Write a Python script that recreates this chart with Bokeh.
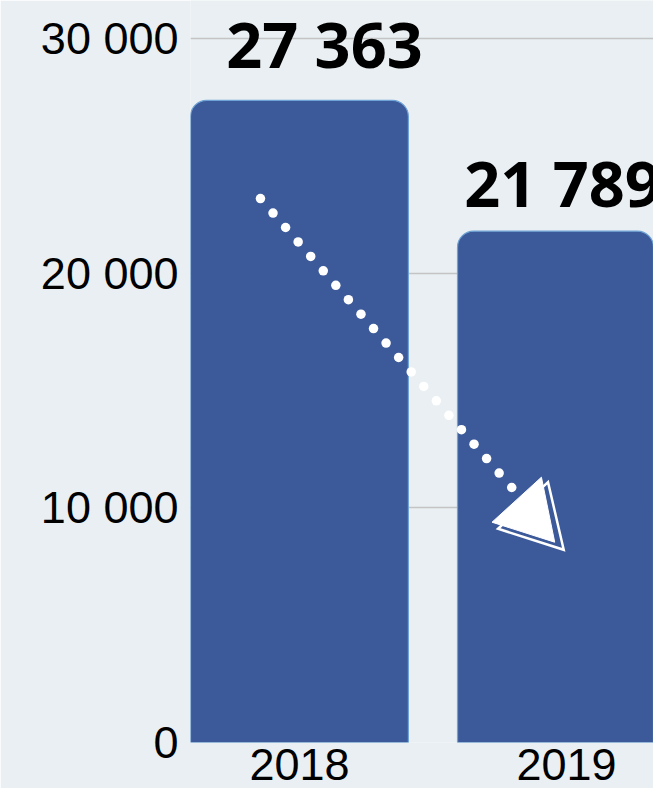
import numpy as np
from bokeh.plotting import figure
from bokeh.models import ColumnDataSource, FixedTicker, Range1d
from bokeh.core.properties import value
from bokeh.embed import file_html
from bokeh.resources import INLINE

# ---- data ----
years = ["2018", "2019"]
counts = [27363, 21789]
count_labels = ["27 363", "21 789"]
y_ticks = [0, 10000, 20000, 30000]
y_tick_labels = ["0", "10 000", "20 000", "30 000"]

BG = "#e9eff2"
BAR = "#3c5a99"

W, H = 653, 788
LEFT, BOTTOM = 190, 46
x_start, x_end = -0.408, 1.326
y_start, y_end = 0, 31619

p = figure(width=W, height=H, output_backend="svg", toolbar_location=None,
           x_range=Range1d(x_start, x_end), y_range=Range1d(y_start, y_end),
           min_border_left=LEFT, min_border_right=0, min_border_top=0,
           min_border_bottom=BOTTOM)
p.background_fill_color = BG
p.border_fill_color = BG
p.outline_line_color = None

xs = list(range(len(years)))
src = ColumnDataSource(dict(x=xs, top=counts, label=count_labels,
                            dx=[25, -4], dy=[-57, -49]))

p.vbar(x="x", top="top", bottom=0, width=0.816, source=src,
       fill_color=BAR, line_color="#6fa3d6", line_width=1.2,
       border_radius=(16, 16, 0, 0))

p.text(x="x", y="top", text="label", source=src, x_offset="dx", y_offset="dy",
       text_font=value("Open Sans"), text_font_style="bold",
       text_font_size="63px", text_align="center", text_baseline="alphabetic",
       text_color="black")

# ---- trend arrow (decoration, anchored on the bars) ----
px_per_x = (W - LEFT) / (x_end - x_start)
px_per_y = (H - BOTTOM) / (y_end - y_start)
sx0, sy0 = xs[0] - 0.146, counts[0] * 0.847
sx1, sy1 = xs[1] - 0.205, counts[1] * 0.4987
n_dots = 21
p.scatter(np.linspace(sx0, sx1, n_dots), np.linspace(sy0, sy1, n_dots),
          size=9.5, fill_color="white", line_color=None)

def head(offsets):
    return ([sx1 + dx / px_per_x for dx, dy in offsets],
            [sy1 - dy / px_per_y for dx, dy in offsets])

hx, hy = head([(29.7, -10.3), (-19.7, 34.7), (43, 54.7)])
ox, oy = head([(36.3, -5.3), (-13.7, 41.3), (52, 62.3)])
p.patch(ox, oy, fill_color=None, line_color="white", line_width=2.5,
        line_join="miter")
p.patch(hx, hy, fill_color="white", line_color="white", line_width=1)

# ---- axes & grid ----
p.yaxis.ticker = FixedTicker(ticks=y_ticks)
p.yaxis.major_label_overrides = {t: l for t, l in zip(y_ticks, y_tick_labels)}
p.xaxis.ticker = FixedTicker(ticks=xs)
p.xaxis.major_label_overrides = {i: y for i, y in zip(xs, years)}
for ax in (p.xaxis, p.yaxis):
    ax.axis_line_color = None
    ax.major_tick_line_color = None
    ax.minor_tick_line_color = None
    ax.major_label_text_font = "Liberation Sans"
    ax.major_label_text_font_size = "45px"
    ax.major_label_text_color = "black"
p.yaxis.major_label_standoff = 6
p.xaxis.major_label_standoff = 0
p.xgrid.grid_line_color = None
p.ygrid.grid_line_color = "#c4c4c4"
p.ygrid.grid_line_width = 1.5
p.ygrid.level = "underlay"

open("out.html", "w").write(file_html(p, INLINE))
